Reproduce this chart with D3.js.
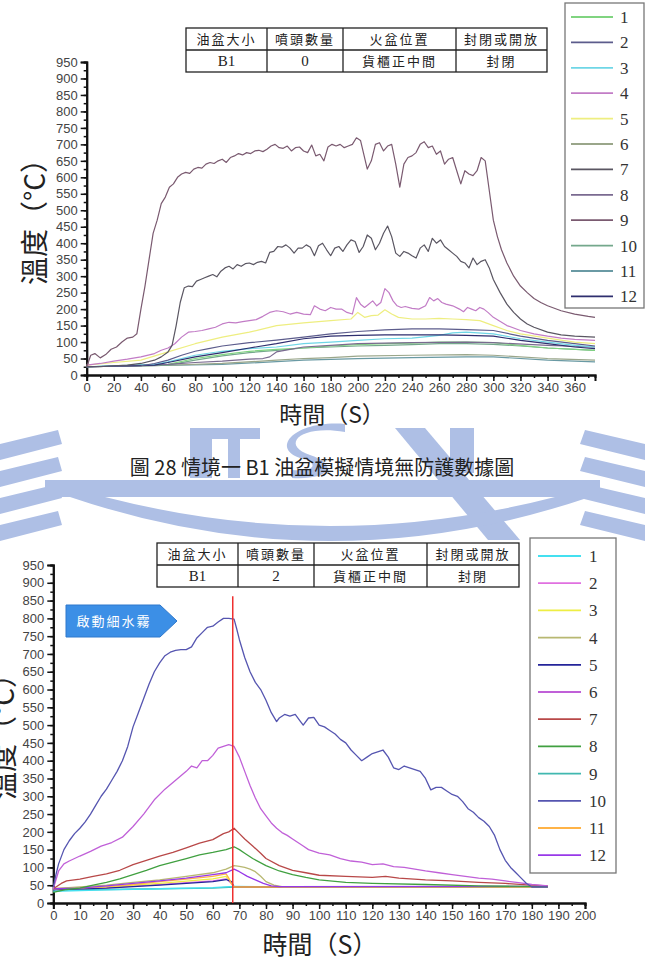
<!DOCTYPE html>
<html><head><meta charset="utf-8">
<script src="https://cdn.jsdelivr.net/npm/d3@7"></script>
<style>
body{margin:0;background:#fff;}
svg{display:block;}
</style></head>
<body><svg id="c" width="645" height="970"></svg>
<script>
// ---------- DATA: top chart (no protection) ----------
const topLabels = ["1","2","3","4","5","6","7","8","9","10","11","12"];
const topColors = ["#80d480","#5c5c8c","#6fd6e6","#c27cc6","#eeee80","#9aa68a","#5a5662","#7a6a90","#7a5a70","#74a88c","#6a9aa4","#2e2e6e"];
const topT1  = [[0,25],[60,32],[80,50],[100,62],[120,72],[140,78],[160,82],[180,88],[200,92],[220,95],[240,97],[260,100],[280,100],[300,98],[320,90],[340,82],[375,75]];
const topT2  = [[0,25],[40,28],[50,35],[60,45],[70,60],[80,72],[90,80],[100,88],[120,98],[140,106],[160,115],[180,125],[200,132],[220,137],[240,140],[260,140],[280,138],[300,135],[320,118],[340,105],[360,95],[375,88]];
const topT3  = [[0,25],[50,32],[60,40],[80,60],[100,72],[120,80],[140,85],[160,95],[180,100],[200,105],[220,110],[240,112],[260,120],[270,128],[280,130],[300,125],[320,110],[340,100],[360,90],[375,85]];
const topT4  = [[0,30],[10,35],[20,42],[30,48],[40,55],[50,65],[55,75],[60,82],[65,95],[70,115],[75,130],[80,132],[85,135],[90,140],[95,145],[100,155],[105,160],[110,158],[115,162],[120,165],[125,168],[130,178],[135,190],[140,195],[145,192],[150,185],[155,190],[160,185],[165,183],[168,210],[172,200],[176,195],[180,205],[184,200],[188,200],[192,190],[196,185],[199,235],[202,215],[205,205],[208,215],[211,225],[214,210],[217,220],[220,262],[223,250],[226,225],[229,210],[232,205],[235,208],[240,202],[245,200],[250,210],[253,235],[256,225],[259,232],[262,220],[265,215],[270,210],[275,200],[278,192],[281,205],[284,200],[287,195],[290,205],[293,200],[296,190],[300,175],[310,150],[320,135],[330,125],[340,118],[350,112],[360,108],[375,105]];
const topT5  = [[0,30],[20,38],[40,45],[60,70],[80,95],[100,115],[120,130],[140,150],[160,158],[180,165],[195,170],[200,190],[205,175],[210,180],[215,182],[220,198],[225,185],[230,175],[240,170],[250,170],[260,172],[270,170],[280,168],[290,165],[300,150],[310,135],[320,125],[340,112],[360,100],[375,95]];
const topT6  = [[0,25],[50,28],[100,35],[140,45],[160,50],[180,53],[200,57],[240,60],[280,62],[300,60],[340,50],[375,45]];
const topT7  = [[0,25],[10,25],[20,28],[30,30],[40,35],[50,45],[55,55],[60,70],[63,90],[66,150],[69,220],[72,265],[75,270],[78,268],[81,285],[84,290],[87,295],[90,300],[93,305],[96,298],[99,315],[102,325],[105,330],[108,322],[111,335],[114,330],[117,338],[120,340],[123,335],[126,342],[129,345],[132,340],[135,372],[138,375],[141,390],[144,388],[147,395],[150,385],[153,370],[156,385],[159,385],[162,395],[165,388],[168,362],[171,392],[174,400],[177,380],[180,362],[183,385],[186,390],[189,375],[192,395],[195,410],[198,405],[201,372],[204,390],[207,425],[210,415],[213,380],[216,400],[219,430],[222,452],[225,420],[228,370],[231,360],[234,375],[237,370],[240,362],[243,355],[246,385],[249,395],[252,375],[255,415],[258,400],[261,410],[264,390],[267,380],[270,370],[273,360],[276,345],[279,340],[282,325],[285,355],[288,335],[291,345],[294,350],[297,325],[300,290],[305,250],[310,215],[315,190],[320,170],[325,155],[330,145],[340,130],[350,122],[360,118],[375,115]];
const topT8  = [[0,25],[40,28],[60,32],[80,38],[100,42],[120,48],[130,50],[135,55],[140,70],[150,78],[160,85],[180,90],[200,95],[240,98],[280,100],[300,98],[340,90],[375,85]];
const topT9  = [[0,25],[3,60],[6,65],[10,52],[14,62],[18,78],[22,85],[26,100],[30,112],[34,115],[37,125],[40,200],[43,270],[46,350],[49,430],[52,470],[55,520],[58,540],[61,570],[64,580],[67,600],[70,610],[73,615],[76,612],[79,625],[82,630],[85,628],[88,640],[91,645],[94,642],[97,650],[100,655],[103,645],[106,660],[109,665],[112,672],[115,668],[118,675],[121,672],[124,680],[127,682],[130,678],[133,685],[136,695],[139,700],[142,690],[145,688],[148,695],[151,680],[154,690],[157,692],[160,680],[163,675],[166,698],[169,665],[172,670],[175,650],[178,692],[181,700],[184,695],[187,700],[190,690],[193,695],[196,700],[199,720],[202,712],[205,660],[207,625],[210,650],[213,700],[216,705],[219,680],[222,695],[225,700],[228,640],[231,570],[234,640],[237,660],[240,665],[243,675],[246,700],[249,708],[252,690],[255,695],[258,670],[261,680],[264,640],[267,655],[270,660],[273,620],[276,580],[279,620],[282,610],[285,605],[288,620],[291,660],[294,650],[297,560],[300,470],[303,420],[306,380],[310,340],[315,300],[320,270],[325,250],[330,232],[335,220],[340,210],[350,195],[360,185],[370,178],[375,175]];
const topT10 = [[0,25],[60,30],[80,45],[100,58],[120,68],[140,75],[160,82],[180,85],[200,88],[220,90],[240,92],[260,95],[280,95],[300,93],[320,88],[340,82],[375,75]];
const topT11 = [[0,25],[100,32],[160,45],[200,50],[240,53],[280,55],[300,55],[340,45],[375,40]];
const topT12 = [[0,25],[50,30],[60,38],[80,55],[100,68],[120,82],[140,95],[160,110],[180,118],[200,120],[220,122],[240,122],[260,122],[280,120],[300,118],[320,105],[340,95],[360,85],[375,80]];
const topSeries = [topT1,topT2,topT3,topT4,topT5,topT6,topT7,topT8,topT9,topT10,topT11,topT12];
const topXTicks = d3.range(0, 361, 20);
const yTicks = d3.range(0, 951, 50);

// ---------- DATA: bottom chart (2 nozzles) ----------
const botLabels = ["1","2","3","4","5","6","7","8","9","10","11","12"];
const botColors = ["#44e0f0","#e070e0","#eeee44","#b8b872","#24249a","#c060d8","#b84848","#40a040","#40b8b0","#5555b0","#ffb347","#9838e8"];
const botT1  = [[0,33],[20,37],[40,40],[60,43],[68,47],[80,45],[186,45]];
const botT2  = [[0,38],[20,43],[40,52],[60,62],[65,68],[67,55],[68,45],[186,45]];
const botT3  = [[0,40],[20,45],[40,55],[60,68],[65,75],[67,55],[68,45],[186,45]];
const botT4  = [[0,40],[10,45],[20,50],[30,58],[40,65],[50,75],[60,85],[65,95],[68,105],[70,103],[72,100],[74,95],[76,88],[78,75],[80,60],[83,50],[86,46],[186,45]];
const botT5  = [[0,38],[20,42],[40,50],[60,60],[65,66],[67,60],[68,45],[186,45]];
const botT6  = [[0,40],[2,90],[4,110],[6,118],[8,125],[10,132],[14,145],[18,160],[22,170],[26,185],[30,215],[34,250],[38,290],[42,320],[46,345],[50,370],[52,385],[54,380],[56,400],[58,400],[60,415],[62,435],[64,440],[66,445],[68,440],[70,410],[72,370],[74,330],[76,295],[78,265],[80,245],[82,225],[84,210],[86,198],[88,190],[90,180],[92,170],[94,160],[96,150],[100,140],[104,135],[108,125],[112,118],[116,115],[120,108],[124,110],[128,102],[132,100],[136,95],[140,90],[145,85],[150,80],[155,75],[160,70],[165,67],[170,62],[175,57],[180,52],[186,48]];
const botT7  = [[0,40],[3,55],[5,62],[10,67],[15,75],[20,82],[25,92],[30,108],[35,120],[40,132],[45,142],[50,155],[55,168],[60,178],[64,195],[66,200],[68,210],[70,195],[72,180],[75,160],[78,140],[80,125],[85,105],[90,92],[95,85],[100,78],[110,75],[120,72],[125,75],[130,70],[140,65],[150,62],[160,58],[170,55],[180,50],[186,48]];
const botT8  = [[0,30],[5,38],[10,42],[15,50],[20,58],[25,68],[30,80],[35,92],[40,105],[45,115],[50,125],[55,135],[60,142],[65,150],[68,158],[70,150],[72,140],[75,125],[80,105],[85,90],[90,80],[95,72],[100,65],[110,58],[120,55],[140,52],[160,48],[186,46]];
const botT9  = [[0,36],[20,38],[40,40],[60,42],[68,45],[186,44]];
const botT10 = [[0,45],[1,80],[2,110],[4,150],[6,175],[8,195],[10,210],[12,228],[14,250],[16,275],[18,300],[20,320],[22,345],[24,370],[26,400],[28,440],[30,495],[32,535],[34,575],[36,615],[38,650],[40,675],[42,695],[44,705],[46,710],[48,712],[50,712],[52,720],[54,745],[56,760],[58,775],[60,778],[62,790],[64,800],[66,800],[68,798],[69,770],[70,740],[72,690],[74,650],[76,620],[78,600],[80,570],[82,535],[84,510],[85,520],[87,530],[89,525],[91,530],[93,510],[94,500],[96,520],[98,522],[100,500],[102,495],[104,485],[106,475],[108,460],[110,450],[112,430],[114,415],[116,400],[118,410],[120,420],[122,425],[124,430],[126,410],[128,380],[130,375],[132,385],[134,380],[136,375],[138,370],[140,350],[142,318],[144,325],[146,325],[148,315],[150,305],[152,300],[154,285],[156,265],[158,255],[160,240],[162,230],[164,215],[166,190],[168,150],[170,120],[172,100],[174,85],[176,70],[178,55],[180,45],[186,45]];
const botT11 = [[0,40],[10,42],[20,46],[30,52],[40,60],[50,67],[60,75],[65,82],[66,70],[67,55],[68,45],[186,45]];
const botT12 = [[0,40],[10,42],[20,48],[30,55],[40,62],[50,70],[60,80],[65,85],[68,95],[70,88],[73,75],[76,65],[79,55],[82,48],[85,46],[186,47]];
const botSeries = [botT1,botT2,botT3,botT4,botT5,botT6,botT7,botT8,botT9,botT10,botT11,botT12];
const botXTicks = d3.range(0, 201, 10);
const mistStart = 67.5;

const tableHead = ["油盆大小","噴頭數量","火盆位置","封閉或開放"];
const tableTop = ["B1","0","貨櫃正中間","封閉"];
const tableBot = ["B1","2","貨櫃正中間","封閉"];

const svg = d3.select("#c");
const CJK = "'Noto Sans CJK TC','Noto Sans CJK SC',sans-serif";
const SERIF = "'Liberation Serif','DejaVu Serif',serif";
const SANS = "'Liberation Sans',Arial,sans-serif";

// ---------- watermark ----------
const wm = svg.append("g").attr("fill","#aebfe5");
[0,1,2,3].forEach(i=>{
  const y0 = 430 + i*27;
  wm.append("path").attr("d",`M0,${y0+14} L58,${y0} L62,${y0+14} L0,${y0+30} Z`);
});
[0,1,2,3].forEach(i=>{
  const y0 = 430 + i*27;
  wm.append("path").attr("d",`M645,${y0+14} L585,${y0} L580,${y0+14} L645,${y0+30} Z`);
});
wm.append("rect").attr("x",190).attr("y",428).attr("width",22).attr("height",50);
wm.append("rect").attr("x",190).attr("y",428).attr("width",70).attr("height",11);
wm.append("rect").attr("x",228).attr("y",428).attr("width",12).attr("height",50);
wm.append("path").attr("d","M345,432 C300,424 280,445 310,455 C340,465 330,480 292,478 L292,470 C318,472 318,462 300,458 C270,448 295,420 345,424 Z");
wm.append("path").attr("d","M395,428 L425,428 L520,540 L488,540 Z");
wm.append("rect").attr("x",450).attr("y",428).attr("width",24).attr("height",45);
wm.append("path").attr("d","M45,480 L600,480 L600,497 L45,497 Z");
wm.append("path").attr("d","M70,497 Q330,585 590,497 L555,497 Q330,555 105,497 Z");

// ---------- chart drawer ----------
function drawChart(cfg){
  const g = svg.append("g");
  const x = d3.scaleLinear().domain(cfg.xDomain).range(cfg.xRange);
  const y = d3.scaleLinear().domain([0,950]).range([cfg.yBottom, cfg.yTop]);
  const xAxisMinor = d3.axisBottom(x).tickValues(cfg.xMinor).tickSize(3).tickFormat("");
  const yAxisMinor = d3.axisLeft(y).tickValues(d3.range(0,951,25)).tickSize(3).tickFormat("");
  g.append("g").attr("transform",`translate(0,${cfg.yBottom})`).call(xAxisMinor);
  g.append("g").attr("transform",`translate(${cfg.xRange[0]},0)`).call(yAxisMinor);
  const xAxis = d3.axisBottom(x).tickValues(cfg.xTicks).tickSize(6).tickPadding(2);
  const yAxis = d3.axisLeft(y).tickValues(yTicks).tickSize(6).tickPadding(3);
  g.append("g").attr("transform",`translate(0,${cfg.yBottom})`).call(xAxis);
  g.append("g").attr("transform",`translate(${cfg.xRange[0]},0)`).call(yAxis);
  g.selectAll(".domain").attr("stroke","#111").attr("stroke-width",2);
  g.selectAll(".tick line").attr("stroke","#111").attr("stroke-width",1.5);
  g.selectAll(".tick text").attr("font-family",SANS).attr("font-size",13).attr("fill","#444");

  const line = d3.line().x(d=>x(d[0])).y(d=>y(d[1]));
  cfg.drawOrder.forEach(i=>{
    g.append("path").datum(cfg.series[i]).attr("d",line)
      .attr("fill","none").attr("stroke",cfg.colors[i]).attr("stroke-width",cfg.lw)
      .attr("stroke-linejoin","round");
  });
  if(cfg.after) cfg.after(g,x,y);

  g.append("text").attr("x",cfg.xTitleX).attr("y",cfg.xTitleY).attr("text-anchor","middle")
    .attr("font-family",CJK).attr("font-size",cfg.xTitleSize).attr("fill","#222").text("時間（S）");
  g.append("text").attr("transform",`translate(${cfg.yTitleX},${cfg.yTitleY}) rotate(-90)`)
    .attr("text-anchor","middle").attr("font-family",CJK).attr("font-size",28).attr("fill","#222").text("溫度（°C）");

  const tb = g.append("g");
  const cx = cfg.tableCols;
  const rowY = cfg.tableRows;
  tb.append("rect").attr("x",cx[0]).attr("y",rowY[0]).attr("width",cx[4]-cx[0]).attr("height",rowY[2]-rowY[0])
    .attr("fill","#fff").attr("stroke","#222").attr("stroke-width",1.3);
  tb.append("line").attr("x1",cx[0]).attr("x2",cx[4]).attr("y1",rowY[1]).attr("y2",rowY[1]).attr("stroke","#222").attr("stroke-width",1.3);
  [1,2,3].forEach(k=>tb.append("line").attr("x1",cx[k]).attr("x2",cx[k]).attr("y1",rowY[0]).attr("y2",rowY[2]).attr("stroke","#222").attr("stroke-width",1.3));
  tableHead.forEach((t,k)=>{
    tb.append("text").attr("x",(cx[k]+cx[k+1])/2).attr("y",(rowY[0]+rowY[1])/2+5).attr("text-anchor","middle")
      .attr("font-family",CJK).attr("font-size",13).attr("letter-spacing",2).attr("fill","#222").text(t);
  });
  cfg.tableBody.forEach((t,k)=>{
    const latin = /[A-Za-z0-9]/.test(t);
    tb.append("text").attr("x",(cx[k]+cx[k+1])/2).attr("y",(rowY[1]+rowY[2])/2+5).attr("text-anchor","middle")
      .attr("font-family",latin?SERIF:CJK).attr("font-size",latin?15:13)
      .attr("letter-spacing",latin?0:2).attr("fill","#222").text(t);
  });

  const lg = g.append("g");
  const L = cfg.legend;
  lg.append("rect").attr("x",L.x).attr("y",L.y).attr("width",L.w).attr("height",L.h)
    .attr("fill","#fff").attr("stroke","#777").attr("stroke-width",1.3);
  cfg.labels.forEach((lab,i)=>{
    const yy = L.first + i*L.step;
    lg.append("line").attr("x1",L.lx1).attr("x2",L.lx2).attr("y1",yy).attr("y2",yy)
      .attr("stroke",cfg.colors[i]).attr("stroke-width",1.8);
    lg.append("text").attr("x",L.tx).attr("y",yy+6).attr("font-family",SERIF).attr("font-size",17).attr("fill","#333").text(lab);
  });
}

drawChart({
  xDomain:[0,375], xRange:[86.7, 595], yBottom:375, yTop:62,
  xTicks: topXTicks, xMinor: d3.range(0,371,10),
  series: topSeries, colors: topColors, lw:1.2,
  drawOrder:[10,5,9,0,7,2,11,1,4,3,6,8],
  labels: topLabels,
  xTitleX:332, xTitleY:423, xTitleSize:23, yTitleX:45, yTitleY:215,
  tableCols:[186,267,343,456,547], tableRows:[28,50,72], tableBody: tableTop,
  legend:{x:565,y:3,w:79,h:305,first:17,step:25.4,lx1:571,lx2:613,tx:620}
});

drawChart({
  xDomain:[0,200], xRange:[53.3, 585], yBottom:903, yTop:565,
  xTicks: botXTicks, xMinor: d3.range(0,201,5),
  series: botSeries, colors: botColors, lw:1.3,
  drawOrder:[8,0,1,2,4,10,3,11,7,6,5,9],
  labels: botLabels,
  xTitleX:320, xTitleY:954, xTitleSize:25, yTitleX:14, yTitleY:730,
  tableCols:[157,238,314,427,519], tableRows:[543,565,587], tableBody: tableBot,
  legend:{x:530,y:538,w:86,h:335,first:556,step:27.2,lx1:538,lx2:581,tx:589},
  after:(g,x,y)=>{
    g.append("line").attr("x1",x(mistStart)).attr("x2",x(mistStart)).attr("y1",y(0)).attr("y2",y(862))
      .attr("stroke","#ee3030").attr("stroke-width",1.5);
    const cb = g.append("g");
    cb.append("path").attr("d","M66,605 L160,605 L177,621 L160,637 L66,637 Z").attr("fill","#3c8fe6").attr("stroke","#2f78cc").attr("stroke-width",1);
    cb.append("text").attr("x",114).attr("y",626).attr("text-anchor","middle").attr("font-family",CJK)
      .attr("font-size",13).attr("letter-spacing",2).attr("fill","#fff").text("啟動細水霧");
  }
});

svg.append("text").attr("x",322).attr("y",475).attr("text-anchor","middle")
  .attr("font-family",CJK).attr("font-size",20).attr("fill","#222")
  .text("圖 28 情境一  B1 油盆模擬情境無防護數據圖");
</script></body></html>
